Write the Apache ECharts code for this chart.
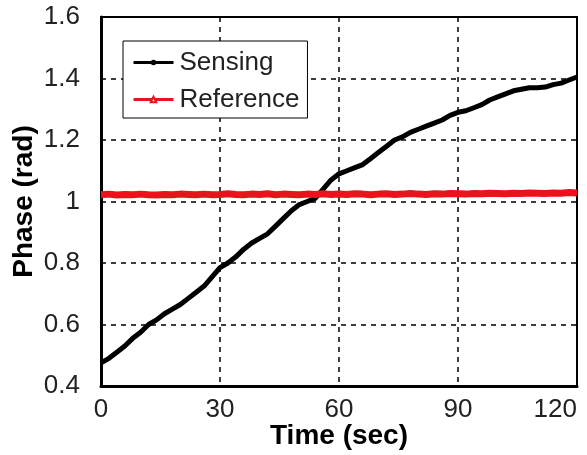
<!DOCTYPE html>
<html lang="en">
<head>
<meta charset="utf-8">
<title>Phase vs Time</title>
<script src="https://cdn.jsdelivr.net/npm/echarts@6/dist/echarts.min.js"></script>
<style>
  html, body { margin: 0; padding: 0; background: #fff; }
  #chart { width: 587px; height: 455px; }
</style>
</head>
<body>
<div id="chart"></div>
<script>
// time axis (sec), one sample every 2 s
var timeSec = [0,2,4,6,8,10,12,14,16,18,20,22,24,26,28,30,32,34,36,38,40,42,44,46,48,50,52,54,56,58,
               60,62,64,66,68,70,72,74,76,78,80,82,84,86,88,90,92,94,96,98,100,102,104,106,108,110,112,114,116,118,120];
// phase (rad)
var sensing = [0.475,0.49,0.51,0.53,0.555,0.575,0.60,0.615,0.635,0.65,0.665,0.685,0.705,0.725,0.755,0.785,0.80,0.82,0.845,0.865,0.88,0.895,0.92,0.945,0.97,0.99,1.00,1.01,1.04,1.07,
               1.09,1.10,1.11,1.12,1.14,1.16,1.18,1.20,1.21,1.225,1.235,1.245,1.255,1.265,1.28,1.29,1.295,1.305,1.315,1.33,1.34,1.35,1.36,1.365,1.37,1.37,1.372,1.38,1.385,1.395,1.405];
var reference = [1.022,1.024,1.021,1.023,1.022,1.024,1.022,1.021,1.023,1.022,1.024,1.023,1.022,1.024,1.022,1.023,1.025,1.023,1.022,1.024,1.023,1.025,1.022,1.024,1.023,1.022,1.024,1.023,1.025,1.023,
                 1.024,1.023,1.025,1.024,1.022,1.024,1.025,1.023,1.024,1.026,1.024,1.023,1.025,1.024,1.026,1.025,1.024,1.026,1.025,1.027,1.026,1.025,1.027,1.026,1.028,1.027,1.026,1.028,1.027,1.029,1.028];
var xTicks = { min: 0, max: 120, step: 30 };
var yTicks = { min: 0.4, max: 1.6, step: 0.2 };

function pairs(xs, ys) {
  var out = [];
  for (var i = 0; i < xs.length; i++) out.push([xs[i], ys[i]]);
  return out;
}

var tickFont = { fontFamily: 'Liberation Sans, Arial, sans-serif', fontSize: 26, color: '#222' };
var nameFont = { fontFamily: 'Liberation Sans, Arial, sans-serif', fontSize: 28, fontWeight: 'bold', color: '#000' };
var dashed = { show: true, lineStyle: { color: '#000', width: 1.5, type: [5, 5] } };

var option = {
  animation: false,
  backgroundColor: '#fff',
  grid: { left: 101, right: 10, top: 17, bottom: 69, outerBoundsMode: 'none', containLabel: false,
          show: true, borderColor: '#000', borderWidth: 2, backgroundColor: 'transparent' },
  legend: {
    orient: 'vertical',
    left: 123, top: 41,
    padding: [6, 8, 3, 9],
    itemGap: 6,
    itemWidth: 40, itemHeight: 7,
    backgroundColor: '#fff',
    borderColor: '#000', borderWidth: 1,
    textStyle: { fontFamily: 'Liberation Sans, Arial, sans-serif', fontSize: 26, color: '#222', lineHeight: 31, padding: [0, 0, 0, 1] },
    data: [
      { name: 'Sensing', lineStyle: { width: 3 } },
      { name: 'Reference', lineStyle: { width: 3 } }
    ]
  },
  xAxis: {
    type: 'value',
    min: xTicks.min, max: xTicks.max, interval: xTicks.step,
    name: 'Time (sec)', nameLocation: 'middle', nameGap: 36, nameMoveOverlap: false,
    nameTextStyle: nameFont,
    axisLine: { show: true, onZero: false, lineStyle: { color: '#000', width: 3 } },
    axisTick: { show: false },
    axisLabel: Object.assign({ margin: 11, alignMaxLabel: 'right' }, tickFont),
    splitLine: dashed
  },
  yAxis: {
    type: 'value',
    min: yTicks.min, max: yTicks.max, interval: yTicks.step,
    name: 'Phase (rad)', nameLocation: 'middle', nameGap: 63, nameMoveOverlap: false,
    nameTextStyle: nameFont,
    axisLine: { show: true, onZero: false, lineStyle: { color: '#000', width: 3 } },
    axisTick: { show: false },
    axisLabel: Object.assign({ margin: 21, formatter: function (v) { return String(+v.toFixed(1)); } }, tickFont),
    splitLine: dashed
  },
  series: [
    {
      name: 'Reference',
      type: 'line',
      data: pairs(timeSec, reference),
      symbol: 'emptyTriangle',
      symbolSize: 7,
      showSymbol: false,
      itemStyle: { color: '#e8141b', borderColor: '#e8141b' },
      lineStyle: { color: '#e8141b', width: 7 },
      z: 3
    },
    {
      name: 'Sensing',
      type: 'line',
      data: pairs(timeSec, sensing),
      symbol: 'circle',
      symbolSize: 5,
      showSymbol: false,
      itemStyle: { color: '#000' },
      lineStyle: { color: '#000', width: 5 },
      z: 2
    }
  ]
};

var myChart = echarts.init(document.getElementById('chart'), null, { renderer: 'canvas' });
myChart.setOption(option);
</script>
</body>
</html>
